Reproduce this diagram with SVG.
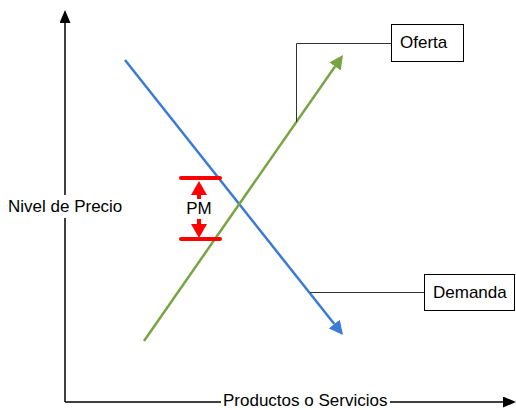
<svg xmlns="http://www.w3.org/2000/svg" width="516" height="410" viewBox="0 0 516 410">
<style>
text{font-family:"Liberation Sans",Arial,sans-serif;font-size:17px;fill:#000}
.axis{stroke:#000;stroke-width:1.5;fill:none}
.conn{stroke:#333;stroke-width:1;fill:none}
.box{fill:#fff;stroke:#000;stroke-width:1}
.red{stroke:#ff0000;stroke-width:4;stroke-linecap:round;fill:none}
</style>
<defs>
<marker id="axArrow" markerUnits="userSpaceOnUse" markerWidth="13" markerHeight="11" refX="0" refY="5.5" orient="auto"><path d="M0,0 L13,5.5 L0,11 z" fill="#000"/></marker>
<marker id="blueArrow" markerUnits="userSpaceOnUse" markerWidth="14" markerHeight="14" refX="0" refY="7" orient="auto"><path d="M0,0 L14,7 L0,14 z" fill="#3b7ad6"/></marker>
<marker id="greenArrow" markerUnits="userSpaceOnUse" markerWidth="14" markerHeight="14" refX="0" refY="7" orient="auto"><path d="M0,0 L14,7 L0,14 z" fill="#7aa443"/></marker>
<marker id="redArrow" markerUnits="userSpaceOnUse" markerWidth="14" markerHeight="16" refX="0" refY="8" orient="auto"><path d="M0,0 L14,8 L0,16 z" fill="#ff0000"/></marker>
</defs>
<g id="axes">
<line class="axis" x1="65" y1="402" x2="65" y2="23" marker-end="url(#axArrow)"/>
<line class="axis" x1="65" y1="402" x2="503" y2="402" marker-end="url(#axArrow)"/>
<rect x="6" y="195" width="118" height="23" fill="#fff"/>
<text x="8" y="212">Nivel de Precio</text>
<rect x="221" y="392" width="169" height="17" fill="#fff"/>
<text x="223" y="406">Productos o Servicios</text>
</g>
<g id="connectors">
<line x1="125" y1="60" x2="334.3" y2="324" stroke="#3b7ad6" stroke-width="2.5" marker-end="url(#blueArrow)"/>
<line x1="144" y1="341" x2="335" y2="66.5" stroke="#7aa443" stroke-width="2.5" marker-end="url(#greenArrow)"/>
<polyline class="conn" points="391,43.5 296.5,43.5 296.5,122"/>
<polyline class="conn" points="424,292.5 310,292.5"/>
</g>
<g id="pm">
<line class="red" x1="181" y1="178" x2="220" y2="178"/>
<line class="red" x1="181" y1="239" x2="220" y2="239"/>
<line x1="199" y1="199" x2="199" y2="195" stroke="#ff0000" stroke-width="4" marker-end="url(#redArrow)"/>
<line x1="199" y1="219" x2="199" y2="224" stroke="#ff0000" stroke-width="4" marker-end="url(#redArrow)"/>
<text x="199" y="214" text-anchor="middle">PM</text>
</g>
<g id="oferta">
<rect class="box" x="391.5" y="24.5" width="72" height="37"/>
<text x="400" y="48">Oferta</text>
</g>
<g id="demanda">
<rect class="box" x="424.5" y="274.5" width="90" height="36"/>
<text x="433" y="298">Demanda</text>
</g>
</svg>
